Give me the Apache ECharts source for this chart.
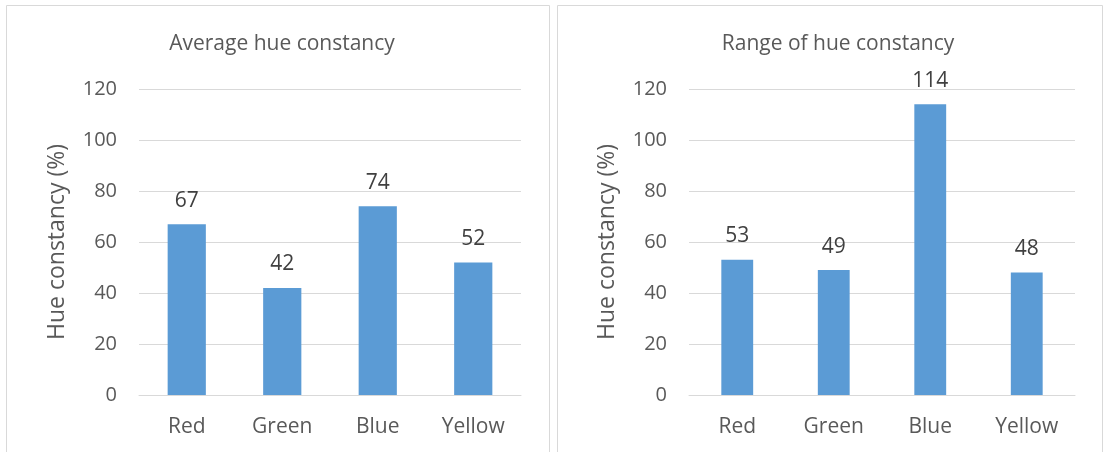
<!DOCTYPE html>
<html>
<head>
<meta charset="utf-8">
<script src="https://cdn.jsdelivr.net/npm/echarts@6/dist/echarts.min.js"></script>
<style>
  html, body { margin: 0; padding: 0; background: #fff; }
  #chart { width: 1106px; height: 452px; }
</style>
</head>
<body>
<div id="chart"></div>
<script>
// Hue constancy per colour category
const categories = ['Red', 'Green', 'Blue', 'Yellow'];
const averageValues = [67, 42, 74, 52];
const rangeValues = [53, 49, 114, 48];
const yTicks = { min: 0, max: 120, interval: 20 };
const titles = ['Average hue constancy', 'Range of hue constancy'];
const yAxisName = 'Hue constancy (%)';

const FONT = '"Open Sans", "Noto Sans", sans-serif';
const BAR = '#5B9BD5';
const GRID = '#D9D9D9';
const TXT = '#595959';

const chart = echarts.init(document.getElementById('chart'), null, { renderer: 'canvas' });

function xAxis(gridIndex) {
  return {
    type: 'category', gridIndex, data: categories,
    axisLine: { lineStyle: { color: GRID, width: 1 } },
    axisTick: { show: false },
    axisLabel: { color: TXT, fontFamily: FONT, fontSize: 21, margin: 22 }
  };
}
function yAxis(gridIndex) {
  return {
    type: 'value', gridIndex, min: yTicks.min, max: yTicks.max, interval: yTicks.interval,
    name: yAxisName, nameLocation: 'middle', nameGap: 70, nameRotate: 90,
    nameTextStyle: { color: TXT, fontFamily: FONT, fontSize: 23 },
    axisLine: { show: false }, axisTick: { show: false },
    axisLabel: { color: TXT, fontFamily: FONT, fontSize: 20, margin: 22 },
    splitLine: { lineStyle: { color: GRID, width: 1 } }
  };
}
function barSeries(idx, values, width) {
  return {
    type: 'bar', xAxisIndex: idx, yAxisIndex: idx, data: values,
    barWidth: width,
    itemStyle: { color: BAR },
    label: { show: true, position: 'top', distance: 13, color: '#404040', fontFamily: FONT, fontSize: 21 }
  };
}

chart.setOption({
  animation: false,
  graphic: [
    { type: 'rect', shape: { x: 6.5, y: 5.5, width: 543, height: 460 }, style: { fill: 'none', stroke: GRID, lineWidth: 1 } },
    { type: 'rect', shape: { x: 557.5, y: 5.5, width: 545, height: 460 }, style: { fill: 'none', stroke: GRID, lineWidth: 1 } }
  ],
  title: [
    { text: titles[0], left: 277, top: 29, textAlign: 'center', textStyle: { color: TXT, fontFamily: FONT, fontSize: 21, fontWeight: 'normal' } },
    { text: titles[1], left: 833, top: 29, textAlign: 'center', textStyle: { color: TXT, fontFamily: FONT, fontSize: 21, fontWeight: 'normal' } }
  ],
  grid: [
    { left: 139, right: 585, top: 89, bottom: 57 },
    { left: 689, right: 31, top: 89, bottom: 57 }
  ],
  xAxis: [xAxis(0), xAxis(1)],
  yAxis: [yAxis(0), yAxis(1)],
  series: [barSeries(0, averageValues, '40%'), barSeries(1, rangeValues, '33%')]
});
</script>
</body>
</html>
